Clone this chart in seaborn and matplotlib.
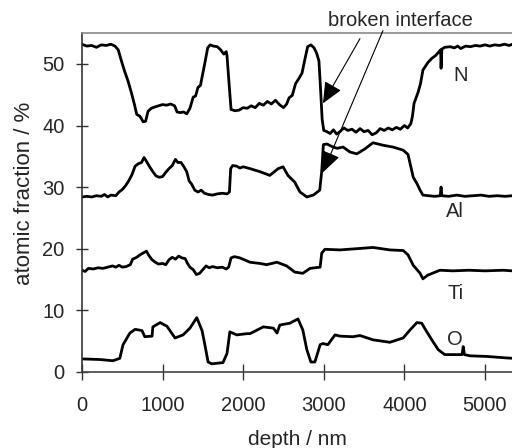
import matplotlib
matplotlib.use("Agg")
import matplotlib.pyplot as plt
import seaborn as sns
import pandas as pd

# Depth profiles as (depth in nm, atomic fraction in %) pairs
n_profile = [(0, 53.2), (60, 52.9), (120, 53.0), (180, 52.7), (240, 53.1), (300, 53.0), (360, 53.2),
             (410, 52.9), (450, 52.3), (490, 50.5), (530, 48.8), (570, 47.3), (610, 45.5), (650, 43.5),
             (680, 41.8), (720, 41.5), (760, 40.6), (790, 40.7), (820, 42.3), (860, 42.8), (900, 43.0),
             (950, 43.2), (1000, 43.4), (1050, 43.3), (1100, 43.5), (1150, 43.2), (1180, 42.2),
             (1220, 42.1), (1260, 42.2), (1300, 41.9), (1340, 42.8), (1380, 44.6), (1410, 44.8),
             (1440, 46.2), (1470, 46.5), (1500, 48.5), (1530, 50.5), (1560, 52.6), (1590, 53.1),
             (1630, 52.9), (1680, 52.8), (1720, 52.3), (1760, 51.6), (1790, 52.0), (1800, 51.3),
             (1830, 46.0), (1850, 42.6), (1900, 42.4), (1950, 42.5), (2000, 42.9), (2050, 42.8),
             (2100, 43.2), (2150, 42.9), (2200, 43.6), (2250, 43.3), (2300, 43.9), (2350, 43.5),
             (2400, 44.1), (2450, 43.4), (2500, 42.9), (2540, 43.5), (2570, 44.5), (2610, 44.9),
             (2650, 46.8), (2690, 47.6), (2730, 48.5), (2770, 51.0), (2800, 52.8), (2840, 53.1),
             (2880, 52.6), (2910, 51.8), (2940, 50.5), (2960, 46.0), (2980, 41.0), (3000, 39.2),
             (3040, 39.0), (3080, 38.7), (3120, 39.3), (3160, 38.6), (3200, 39.0), (3250, 39.6),
             (3300, 39.2), (3350, 39.4), (3400, 38.9), (3450, 39.5), (3500, 39.0), (3550, 39.2),
             (3600, 38.5), (3650, 38.8), (3700, 39.5), (3750, 39.2), (3800, 39.6), (3850, 39.3),
             (3900, 39.7), (3950, 39.4), (4000, 40.0), (4040, 39.6), (4080, 40.3), (4100, 41.5),
             (4120, 43.6), (4170, 45.4), (4200, 46.8), (4230, 49.0), (4290, 50.2), (4340, 50.9),
             (4390, 51.4), (4430, 52.0), (4450, 52.3), (4455, 49.3), (4465, 52.4), (4500, 52.7),
             (4570, 52.8), (4620, 52.6), (4660, 52.9), (4700, 52.5), (4760, 52.9), (4820, 52.8),
             (4880, 53.0), (4940, 52.9), (5000, 53.1), (5060, 52.9), (5120, 53.1), (5180, 53.0),
             (5240, 53.2), (5300, 53.0), (5340, 53.2)]

al_profile = [(0, 28.4), (60, 28.5), (120, 28.4), (180, 28.6), (240, 28.5), (280, 28.8), (320, 28.4),
              (360, 28.7), (420, 28.6), (460, 29.2), (500, 29.6), (540, 30.2), (580, 31.0), (620, 32.0),
              (660, 33.4), (700, 33.8), (740, 34.0), (770, 34.8), (800, 34.2), (840, 33.3), (880, 32.5),
              (920, 31.8), (960, 31.6), (1000, 31.7), (1040, 32.4), (1080, 33.0), (1120, 33.5),
              (1160, 34.5), (1190, 34.0), (1230, 34.0), (1270, 33.2), (1300, 32.5), (1330, 31.0),
              (1360, 30.5), (1400, 29.5), (1440, 29.2), (1480, 29.5), (1520, 29.0), (1570, 28.8),
              (1620, 28.7), (1680, 28.9), (1740, 29.0), (1800, 28.9), (1830, 29.2), (1845, 33.0),
              (1870, 33.5), (1920, 33.4), (1960, 33.1), (2000, 33.3), (2085, 33.0), (2210, 32.5),
              (2330, 31.9), (2435, 33.0), (2495, 33.3), (2555, 31.9), (2640, 30.8), (2705, 29.2),
              (2790, 28.4), (2870, 28.7), (2950, 29.5), (2975, 32.6), (2995, 36.9), (3040, 37.0),
              (3100, 36.6), (3165, 36.3), (3240, 36.5), (3325, 35.7), (3410, 35.4), (3510, 36.2),
              (3610, 37.2), (3735, 36.8), (3860, 36.5), (3985, 36.0), (4045, 35.3), (4110, 31.6),
              (4155, 30.6), (4195, 29.5), (4230, 28.7), (4300, 28.6), (4380, 28.5), (4445, 28.6),
              (4455, 30.0), (4465, 28.6), (4550, 28.5), (4650, 28.7), (4750, 28.5), (4850, 28.6),
              (4950, 28.7), (5050, 28.5), (5150, 28.6), (5250, 28.5), (5340, 28.6)]

ti_profile = [(0, 16.5), (40, 16.3), (80, 16.8), (140, 16.7), (200, 16.9), (260, 16.8), (320, 17.0),
              (380, 17.2), (420, 17.0), (460, 17.3), (500, 17.0), (550, 17.1), (600, 17.4), (630, 18.3),
              (680, 18.6), (720, 19.0), (760, 19.3), (800, 19.6), (830, 18.9), (870, 18.2), (910, 17.8),
              (950, 17.5), (1000, 17.6), (1040, 17.4), (1080, 18.2), (1120, 18.6), (1160, 18.3),
              (1200, 18.8), (1240, 18.5), (1280, 18.4), (1310, 17.6), (1340, 17.0), (1380, 16.6),
              (1420, 15.8), (1460, 16.0), (1500, 16.6), (1540, 17.2), (1580, 16.9), (1620, 17.1),
              (1680, 16.9), (1740, 17.0), (1790, 16.7), (1820, 17.0), (1850, 18.5), (1890, 18.7),
              (1930, 18.6), (1960, 18.5), (2085, 17.8), (2210, 17.6), (2290, 17.4), (2420, 17.8),
              (2540, 17.2), (2640, 16.2), (2740, 16.0), (2830, 16.8), (2955, 17.0), (2975, 19.3),
              (3015, 19.9), (3200, 19.8), (3410, 20.0), (3610, 20.2), (3820, 19.8), (3985, 19.7),
              (4045, 19.0), (4110, 17.3), (4195, 16.0), (4230, 15.1), (4290, 15.7), (4440, 16.5),
              (4600, 16.4), (4800, 16.5), (5000, 16.4), (5225, 16.5), (5340, 16.4)]

o_profile = [(0, 2.1), (225, 2.0), (385, 1.8), (470, 2.2), (510, 4.4), (595, 6.3), (660, 6.9),
             (745, 6.7), (780, 5.7), (870, 5.8), (880, 7.3), (970, 8.0), (1055, 7.4), (1155, 5.5),
             (1255, 6.0), (1340, 7.1), (1425, 8.8), (1490, 6.7), (1525, 4.4), (1565, 1.6), (1610, 1.3),
             (1750, 1.5), (1800, 3.0), (1815, 4.5), (1835, 6.5), (1920, 6.0), (2045, 6.2), (2085, 6.2),
             (2250, 7.3), (2375, 7.1), (2420, 6.3), (2455, 7.6), (2580, 7.9), (2680, 8.6), (2740, 6.8),
             (2790, 3.6), (2840, 1.6), (2890, 1.6), (2955, 4.4), (2990, 4.6), (3050, 4.4), (3140, 6.0),
             (3200, 5.8), (3360, 5.7), (3450, 5.9), (3610, 5.2), (3820, 4.8), (3985, 5.5), (4070, 6.8),
             (4155, 8.0), (4215, 7.9), (4255, 7.0), (4340, 5.2), (4420, 3.6), (4500, 2.8), (4715, 2.8),
             (4730, 4.1), (4745, 2.8), (4815, 2.6), (5025, 2.5), (5225, 2.3), (5340, 2.2)]

element_names = ["N", "Al", "Ti", "O"]
label_depth = [4700, 4630, 4630, 4630]
label_frac = [48.1, 26.0, 12.8, 5.3]

x_ticks = [0, 1000, 2000, 3000, 4000, 5000]
y_ticks = [0, 10, 20, 30, 40, 50]

sns.set_style("ticks")
plt.rcParams["font.family"] = ["Liberation Sans", "DejaVu Sans"]
plt.rcParams["font.size"] = 14.5

fig = plt.figure(figsize=(5.12, 4.48), dpi=100)
ax = fig.add_axes([0.160, 0.170, 0.840, 0.756])

profiles = [n_profile, al_profile, ti_profile, o_profile]
frames = []
for name, prof in zip(element_names, profiles):
    d, f = zip(*prof)
    frames.append(pd.DataFrame({"depth": d, "frac": f, "element": name}))
data = pd.concat(frames, ignore_index=True)

sns.lineplot(data=data, x="depth", y="frac", units="element", estimator=None, sort=False,
             color="black", linewidth=2.0, ax=ax)

for name, lx, ly in zip(element_names, label_depth, label_frac):
    ax.text(lx, ly, name, ha="center", va="center", fontsize=14.5)

ax.set_xlim(0, 5335)
ax.set_ylim(0, 55)
ax.set_xticks(x_ticks)
ax.set_yticks(y_ticks)
ax.tick_params(axis="x", direction="inout", length=11, width=1.0, pad=12, labelsize=14.5, color="#333333")
ax.tick_params(axis="y", direction="inout", length=9, width=1.0, pad=8, labelsize=14.5, color="#333333")
ax.set_xlabel("depth / nm", fontsize=15)
ax.set_ylabel("atomic fraction / %", fontsize=16)
ax.xaxis.set_label_coords(0.5, -0.172)
ax.yaxis.set_label_coords(-0.108, 0.527)

ax.spines["right"].set_visible(False)
ax.spines["top"].set_color("#8a8a8a")
ax.spines["top"].set_linewidth(1.2)
ax.spines["left"].set_color("#333333")
ax.spines["left"].set_linewidth(1.2)
ax.spines["bottom"].set_color("#444444")
ax.spines["bottom"].set_linewidth(1.2)

# Annotation marking the broken interface in N and Al
ax.text(3945, 57.0, "broken interface", ha="center", va="center", fontsize=14.5, clip_on=False)
arrow_kw = dict(arrowstyle="-|>,head_length=0.9,head_width=0.4", color="black", lw=0.8,
                shrinkA=0, shrinkB=0)
ax.annotate("", xy=(2990, 43.6), xytext=(3449, 54.1), arrowprops=arrow_kw, annotation_clip=False)
ax.annotate("", xy=(2990, 32.4), xytext=(3734, 55.4), arrowprops=arrow_kw, annotation_clip=False)

fig.savefig("out.png", dpi=100)
